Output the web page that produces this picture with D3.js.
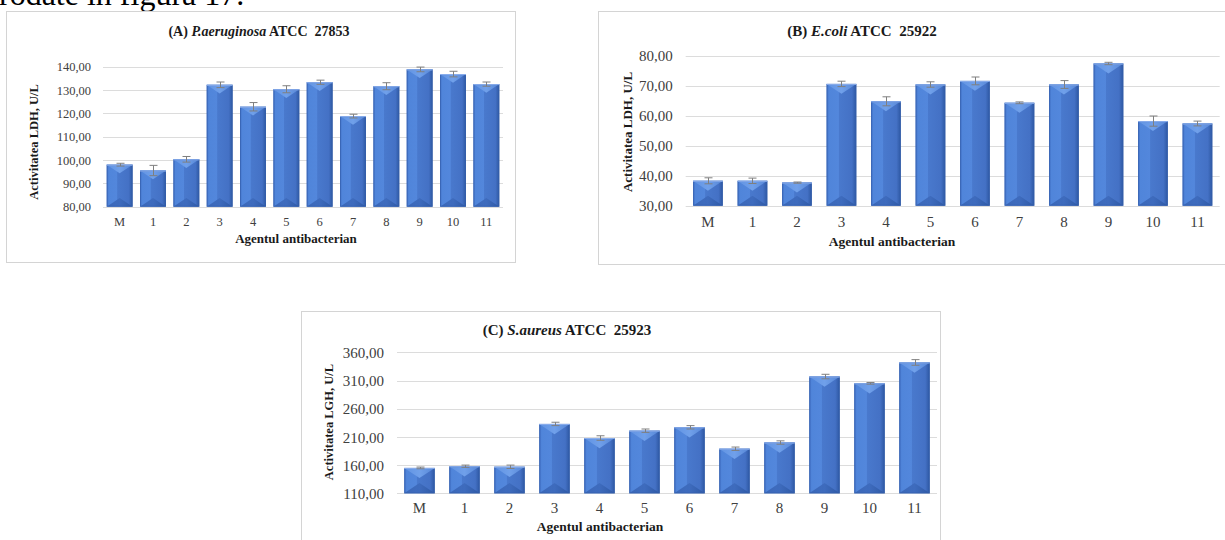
<!DOCTYPE html>
<html>
<head>
<meta charset="utf-8">
<script src="https://cdn.jsdelivr.net/npm/d3@7"></script>
<style>
  html, body { margin: 0; padding: 0; background: #fff; overflow: hidden; }
  svg { display: block; font-family: "Liberation Serif", "Times New Roman", serif; }
</style>
</head>
<body>
<svg id="fig" width="1225" height="540"></svg>
<script>
// Agent categories shared by all three panels
const categories = ["M", "1", "2", "3", "4", "5", "6", "7", "8", "9", "10", "11"];

// (A) P.aeruginosa ATCC 27853 – LDH activity, U/L
const valuesA = [98.0, 95.5, 100.3, 132.2, 122.8, 130.3, 133.3, 118.8, 131.6, 138.8, 136.8, 132.5];
const errorsA = [0.6, 2.2, 1.2, 1.2, 1.8, 1.5, 0.9, 0.8, 1.5, 1.0, 1.2, 0.9];
const ticksA = [80, 90, 100, 110, 120, 130, 140];

// (B) E.coli ATCC 25922 – LDH activity, U/L
const valuesB = [38.3, 38.3, 37.7, 70.6, 64.8, 70.4, 71.6, 64.3, 70.4, 77.4, 58.2, 57.4];
const errorsB = [1.0, 0.9, 0.2, 0.9, 1.5, 0.9, 1.3, 0.3, 1.3, 0.4, 1.7, 0.8];
const ticksB = [30, 40, 50, 60, 70, 80];

// (C) S.aureus ATCC 25923 – LGH activity, U/L
const valuesC = [155, 158, 157, 233, 208, 221, 227, 189, 200, 317, 305, 342];
const errorsC = [1.5, 2.0, 3.0, 3.0, 4.0, 3.0, 3.0, 3.0, 3.0, 4.0, 1.5, 5.0];
const ticksC = [110, 160, 210, 260, 310, 360];

const titles = [
  ["(A) ", "P.aeruginosa", " ATCC\u00A0\u00A027853"],
  ["(B) ", "E.coli", " ATCC\u00A0\u00A025922"],
  ["(C) ", "S.aureus", " ATCC\u00A0\u00A025923"]
];
const yTitles = ["Activitatea LDH, U/L", "Activitatea LDH, U/L", "Activitatea LGH, U/L"];
const xTitle = "Agentul antibacterian";

const ro = d3.formatLocale({ decimal: ",", thousands: ".", grouping: [3], currency: ["", ""] });
const fmt = ro.format(".2f");
const FONT = "'Liberation Serif', 'Times New Roman', serif";

const svg = d3.select("#fig");

// running text of the page above the figure
svg.append("text")
  .attr("x", -1).attr("y", 5)
  .attr("font-family", FONT)
  .attr("font-size", 32)
  .attr("fill", "#000")
  .text("rodate în figura 17.");

// gradients for the bevelled bars
const defs = svg.append("defs");
const gFace = defs.append("linearGradient").attr("id", "face").attr("x1", 0).attr("x2", 1).attr("y1", 0).attr("y2", 0);
[["0%", "#3d6bc0"], ["8%", "#5085da"], ["40%", "#5387dc"], ["42%", "#4979cd"], ["85%", "#4471c5"], ["100%", "#2d57a1"]]
  .forEach(([o, c]) => gFace.append("stop").attr("offset", o).attr("stop-color", c));
const gTop = defs.append("linearGradient").attr("id", "topcap").attr("x1", 0).attr("x2", 1).attr("y1", 0).attr("y2", 0);
[["0%", "#6193e2"], ["50%", "#70a0ea"], ["100%", "#5686d6"]]
  .forEach(([o, c]) => gTop.append("stop").attr("offset", o).attr("stop-color", c));
const gBot = defs.append("linearGradient").attr("id", "botcap").attr("x1", 0).attr("x2", 1).attr("y1", 0).attr("y2", 0);
[["0%", "#3763b3"], ["50%", "#3d6abc"], ["100%", "#2d57a2"]]
  .forEach(([o, c]) => gBot.append("stop").attr("offset", o).attr("stop-color", c));

const panels = [
  { values: valuesA, errors: errorsA, ticks: ticksA, title: titles[0], yTitle: yTitles[0],
    box: [6, 11, 509, 251], xr: [103, 503], yr: [206.7, 66.6], pad: 0.22, tickGap: 12,
    titleY: 36, titleX: 259, titleSize: 14, tickSize: 12.5, catSize: 12.5,
    yTitleX: 38, yTitleY: 142, yTitleSize: 12.5, catY: 222, xTitleY: 242.5, xTitleX: 296, xTitleSize: 13 },
  { values: valuesB, errors: errorsB, ticks: ticksB, title: titles[1], yTitle: yTitles[1],
    box: [598, 11, 634, 253], xr: [685.7, 1219.7], yr: [205.7, 55.7], pad: 0.33, tickGap: 13,
    titleY: 36, titleX: 862, titleSize: 15, tickSize: 15, catSize: 15,
    yTitleX: 632, yTitleY: 132, yTitleSize: 13, catY: 222, xTitleY: 245.5, xTitleX: 892, xTitleSize: 13.5 },
  { values: valuesC, errors: errorsC, ticks: ticksC, title: titles[2], yTitle: yTitles[2],
    box: [301, 311, 639, 240], xr: [397, 937], yr: [493.3, 352.3], pad: 0.32, tickGap: 13,
    titleY: 335, titleX: 567, titleSize: 15, tickSize: 15, catSize: 15,
    yTitleX: 333, yTitleY: 422, yTitleSize: 12.5, catY: 508, xTitleY: 530.5, xTitleX: 600, xTitleSize: 13.5 }
];

panels.forEach(p => {
  const g = svg.append("g");
  const [bx, by, bw, bh] = p.box;
  g.append("rect")
    .attr("x", bx + 0.5).attr("y", by + 0.5).attr("width", bw).attr("height", bh)
    .attr("fill", "#fff").attr("stroke", "#d4d4d4").attr("stroke-width", 1);

  const x = d3.scaleBand().domain(categories).range(p.xr)
    .paddingInner(p.pad).paddingOuter(p.pad / 2);
  const y = d3.scaleLinear().domain(d3.extent(p.ticks)).range(p.yr);

  // horizontal gridlines
  g.append("g").selectAll("line").data(p.ticks).join("line")
    .attr("x1", p.xr[0]).attr("x2", p.xr[1])
    .attr("y1", d => Math.round(y(d)) + 0.5).attr("y2", d => Math.round(y(d)) + 0.5)
    .attr("stroke", "#dcdcdc").attr("stroke-width", 1);

  // value axis labels
  const yAxis = d3.axisLeft(y).tickValues(p.ticks).tickFormat(fmt).tickSize(0).tickPadding(0);
  const ya = g.append("g").attr("transform", `translate(${p.xr[0] - p.tickGap},0)`).call(yAxis)
    .attr("font-family", FONT);
  ya.select(".domain").remove();
  ya.selectAll("text").attr("font-size", p.tickSize).attr("fill", "#404040").attr("dy", "0.34em");

  // category labels
  const xAxis = d3.axisBottom(x).tickSize(0).tickPadding(0);
  const xa = g.append("g").attr("transform", `translate(0,${p.catY})`).call(xAxis)
    .attr("font-family", FONT);
  xa.select(".domain").remove();
  xa.selectAll("text").attr("font-size", p.catSize).attr("fill", "#404040").attr("dy", "0.35em");

  // bevelled bars
  const bars = g.append("g").selectAll("g").data(p.values.map((v, i) => ({ v, e: p.errors[i], c: categories[i] })))
    .join("g");
  bars.each(function (d) {
    const s = d3.select(this);
    const x0 = x(d.c), w = x.bandwidth();
    const yTop = y(d.v), yBot = y(p.ticks[0]);
    const h = yBot - yTop;
    const depth = Math.min(w / 3, h / 2);
    s.append("rect").attr("x", x0).attr("y", yTop).attr("width", w).attr("height", h).attr("fill", "url(#face)");
    s.append("path")
      .attr("d", `M${x0},${yTop}L${x0 + w},${yTop}L${x0 + w / 2},${yTop + depth}Z`)
      .attr("fill", "url(#topcap)");
    s.append("path")
      .attr("d", `M${x0},${yBot}L${x0 + w},${yBot}L${x0 + w / 2},${yBot - depth}Z`)
      .attr("fill", "url(#botcap)").attr("opacity", 0.9);
    s.append("rect").attr("x", x0 + 0.5).attr("y", yTop + 0.5).attr("width", w - 1).attr("height", h - 1)
      .attr("fill", "none").attr("stroke", "#3560ad").attr("stroke-width", 1).attr("opacity", 0.6);
    s.append("line").attr("x1", x0).attr("x2", x0 + w).attr("y1", yTop + 0.5).attr("y2", yTop + 0.5)
      .attr("stroke", "#8db0ee").attr("stroke-width", 1);
  });

  // error bars
  const eb = g.append("g").attr("stroke", "#7f7f7f").attr("stroke-width", 1).attr("fill", "none");
  p.values.forEach((v, i) => {
    const cx = Math.round(x(categories[i]) + x.bandwidth() / 2) + 0.5;
    const y1 = y(v + p.errors[i]), y2 = y(v - p.errors[i]);
    eb.append("line").attr("x1", cx).attr("x2", cx).attr("y1", y1).attr("y2", y2);
    eb.append("line").attr("x1", cx - 4).attr("x2", cx + 4).attr("y1", y1).attr("y2", y1);
    eb.append("line").attr("x1", cx - 4).attr("x2", cx + 4).attr("y1", y2).attr("y2", y2);
  });

  // chart title
  const t = g.append("text").attr("x", p.titleX).attr("y", p.titleY).attr("font-family", FONT)
    .attr("text-anchor", "middle").attr("font-size", p.titleSize).attr("font-weight", "bold").attr("fill", "#1a1a1a");
  t.append("tspan").text(p.title[0]);
  t.append("tspan").attr("font-style", "italic").text(p.title[1]);
  t.append("tspan").text(p.title[2]);

  // value axis title
  g.append("text").attr("font-family", FONT)
    .attr("transform", `translate(${p.yTitleX},${p.yTitleY}) rotate(-90)`)
    .attr("text-anchor", "middle").attr("font-size", p.yTitleSize).attr("font-weight", "bold").attr("fill", "#1a1a1a")
    .text(p.yTitle);

  // category axis title
  g.append("text").attr("x", p.xTitleX).attr("y", p.xTitleY).attr("font-family", FONT)
    .attr("text-anchor", "middle").attr("font-size", p.xTitleSize).attr("font-weight", "bold").attr("fill", "#1a1a1a")
    .text(xTitle);
});
</script>
</body>
</html>
